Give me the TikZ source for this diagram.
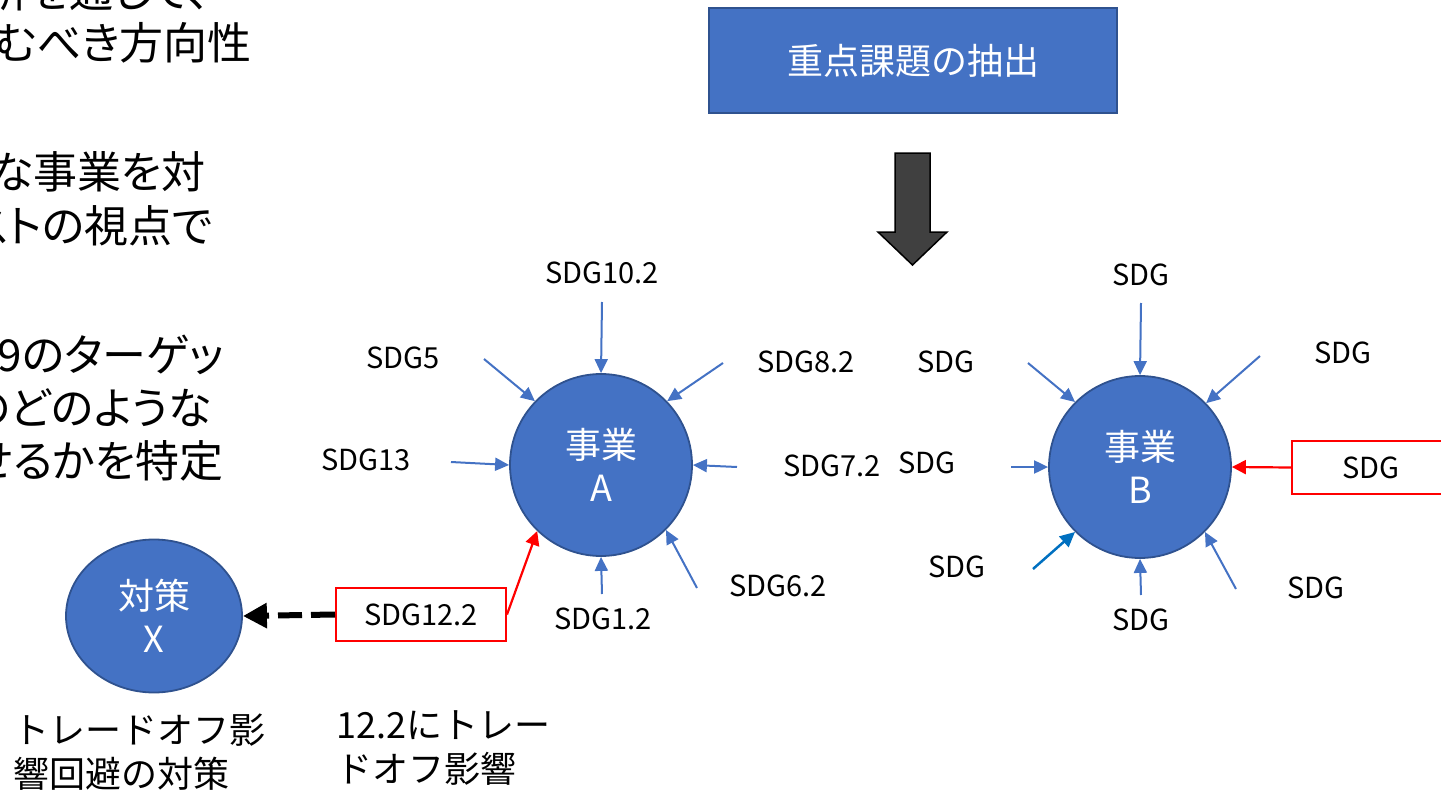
\documentclass[tikz,border=0pt]{standalone}
\usepackage{fontspec}
\setmainfont{Noto Sans CJK JP}
\newfontfamily\propfont[RawFeature={+palt}]{Noto Sans CJK JP}
\usetikzlibrary{arrows.meta,shapes.geometric}
\definecolor{accblue}{HTML}{4472C4}
\definecolor{accedge}{HTML}{2F528F}
\definecolor{brightblue}{HTML}{0070C0}
\definecolor{arrowgray}{HTML}{404040}
\begin{document}
\begin{tikzpicture}[x=1pt,y=-1pt,
  bizcircle/.style={circle, draw=accedge, line width=1.8pt, fill=accblue, text=white,
    minimum size=182pt, inner sep=0pt, align=center, font=\fontsize{36pt}{43pt}\selectfont},
  sdglabel/.style={font=\fontsize{29pt}{34pt}\selectfont, inner sep=0pt},
  inarrow/.style={draw=accblue, line width=2pt, -{Triangle[length=14pt,width=13pt]}},
  inarrowb/.style={draw=brightblue, line width=2.5pt, -{Triangle[length=15pt,width=14pt]}},
  redarrow/.style={draw=red, line width=2.2pt, -{Triangle[length=14pt,width=14pt]}},
  redbox/.style={draw=red, line width=2pt, minimum height=53pt, inner sep=0pt,
    font=\fontsize{29pt}{34pt}\selectfont},
  bigline/.style={font=\propfont\fontsize{44pt}{54pt}\selectfont, inner sep=0pt, anchor=east},
  note/.style={font=\fontsize{36pt}{44pt}\selectfont, inner sep=0pt, align=left, anchor=north west}
]
\useasboundingbox (0,0) rectangle (1441,792);
\clip (0,0) rectangle (1441,792);

% left text (cut by the page edge)
\node[bigline] (t0) at (210,-9) {析を通して、};
\node[bigline] (t1) at (252,43) {むべき方向性};
\node[bigline] (t2) at (206,172) {な事業を対};
\node[bigline] (t3) at (213,226) {ストの視点で};
\node[bigline] (t4) at (224,355) {169のターゲッ};
\node[bigline] (t5) at (212,408) {のどのような};
\node[bigline] (t6) at (224,461) {せるかを特定};

% top box and big arrow
\node[draw=accedge, line width=2.5pt, fill=accblue, text=white, minimum width=408pt,
  minimum height=105pt, inner sep=0pt, font=\fontsize{36pt}{43pt}\selectfont]
  (top) at (913,60.5) {重点課題の抽出};
\filldraw[fill=arrowgray, draw=black, line width=1.5pt]
  (895,153) -- (930,153) -- (930,232) -- (947,232) -- (912.5,265) -- (878,232) -- (895,232) -- cycle;

% circles
\node[bizcircle] (A) at (601,465) {事業\\A};
\node[bizcircle] (B) at (1140,467) {事業\\B};
\node[ellipse, draw=accedge, line width=1.8pt, fill=accblue, text=white,
  minimum width=176pt, minimum height=153pt, inner sep=0pt, align=center,
  font=\fontsize{36pt}{43pt}\selectfont] (X) at (154,616) {対策\\X};

% labels around A
\node[sdglabel] (la1) at (602,273) {SDG10.2};
\node[sdglabel] (la2) at (403,358) {SDG5};
\node[sdglabel] (la3) at (806,362) {SDG8.2};
\node[sdglabel] (la4) at (366,460) {SDG13};
\node[sdglabel] (la5) at (832,466) {SDG7.2};
\node[sdglabel] (la6) at (778,586) {SDG6.2};
\node[sdglabel] (la7) at (603,619) {SDG1.2};
\node[redbox, minimum width=170pt] (r12) at (421,614.5) {SDG12.2};

\coordinate (a1s) at (602,302);
\coordinate (a2s) at (484,359);
\coordinate (a3s) at (723,363);
\coordinate (a4s) at (451,462);
\coordinate (a5s) at (737,467);
\coordinate (a6s) at (697,588);
\coordinate (a7s) at (602,594);
\draw[inarrow] (a1s) -- (A.north);
\draw[inarrow] (a2s) -- (A.136);
\draw[inarrow] (a3s) -- (A.44);
\draw[inarrow] (a4s) -- (A.180);
\draw[inarrow] (a5s) -- (A.0);
\draw[inarrow] (a6s) -- (A.315);
\draw[inarrow] (a7s) -- (A.south);
\draw[redarrow] (r12.east) -- (A.226);

% labels around B
\node[sdglabel] (lb1) at (1141,275) {SDG};
\node[sdglabel] (lb2) at (946,362) {SDG};
\node[sdglabel] (lb3) at (1343,353) {SDG};
\node[sdglabel] (lb4) at (927,463) {SDG};
\node[sdglabel] (lb5) at (957,567) {SDG};
\node[sdglabel] (lb6) at (1141,620) {SDG};
\node[sdglabel] (lb7) at (1316,588) {SDG};
\node[redbox, minimum width=158pt] (rB) at (1371,467.5) {SDG};

\coordinate (b1s) at (1141,303);
\coordinate (b2s) at (1028,363);
\coordinate (b3s) at (1260,356);
\coordinate (b4s) at (1011,467);
\coordinate (b5s) at (1033,569);
\coordinate (b6s) at (1141,595);
\coordinate (b7s) at (1236,589);
\draw[inarrow] (b1s) -- (B.north);
\draw[inarrow] (b2s) -- (B.135);
\draw[inarrow] (b3s) -- (B.44);
\draw[inarrow] (b4s) -- (B.west);
\draw[inarrowb] (b5s) -- (B.225);
\draw[inarrow] (b6s) -- (B.south);
\draw[inarrow] (b7s) -- (B.315);
\draw[redarrow] (rB.west) -- (B.east);

% dashed arrow to countermeasure X
\draw[line width=6pt, dash pattern=on 24pt off 9pt, -{Triangle[length=24pt,width=24pt]}]
  (r12.west) -- (X.east);

% notes
\node[note] (n1) at (13,714) {トレードオフ影\\響回避の対策};
\node[note] (n2) at (336,710) {12.2にトレー\\ドオフ影響};
\end{tikzpicture}
\end{document}
